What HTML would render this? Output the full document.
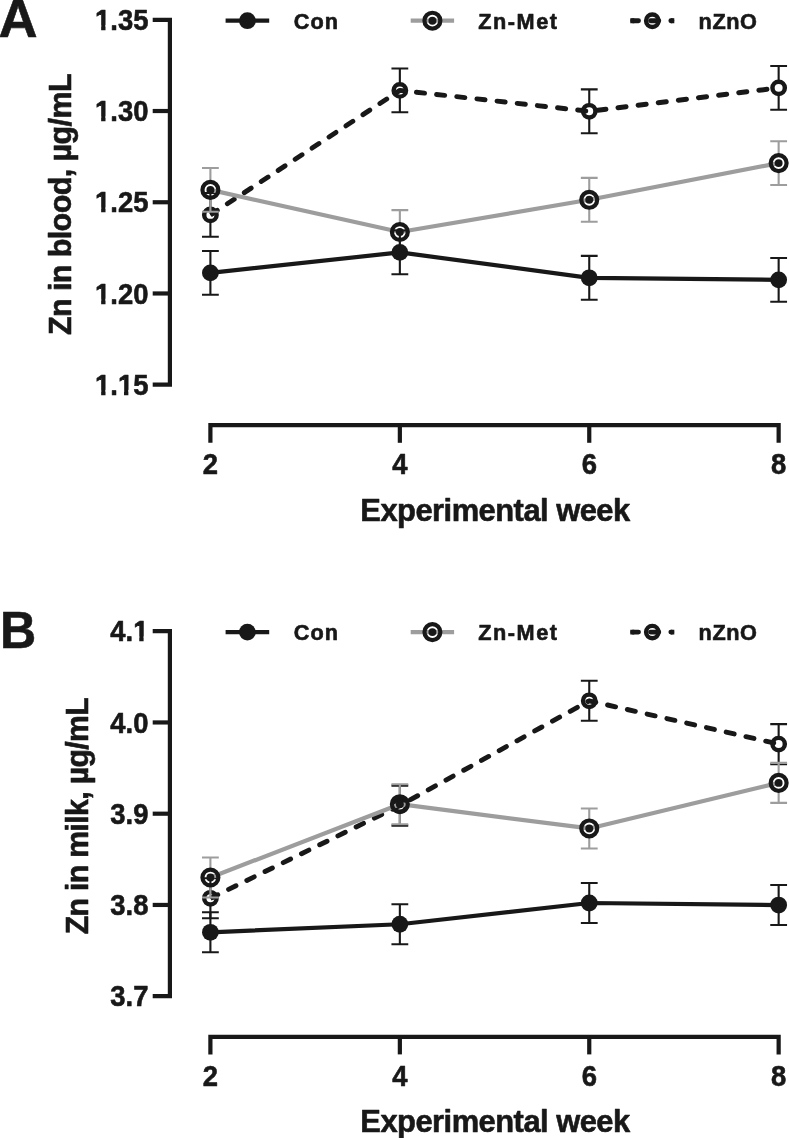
<!DOCTYPE html>
<html><head><meta charset="utf-8"><title>Zn in blood and milk</title>
<style>
html,body{margin:0;padding:0;background:#fff;}
svg{display:block;will-change:transform;filter:grayscale(1);}
text{font-family:"Liberation Sans",sans-serif;font-weight:bold;fill:#181818;stroke:#181818;stroke-width:0.6px;stroke-linejoin:round;}
</style></head><body>
<svg width="789" height="1138" viewBox="0 0 789 1138">
<rect width="789" height="1138" fill="#fff"/>
<!-- panel A: axes -->
<path d="M152.7 19.80H169.90V384.70H152.7" fill="none" stroke="#181818" stroke-width="4.2" stroke-linejoin="miter"/>
<path d="M152.7 111.02H169.90" stroke="#181818" stroke-width="4.2"/>
<path d="M152.7 202.25H169.90" stroke="#181818" stroke-width="4.2"/>
<path d="M152.7 293.47H169.90" stroke="#181818" stroke-width="4.2"/>
<path d="M210.40 442.80V425.20H778.65V442.80" fill="none" stroke="#181818" stroke-width="4.2"/>
<path d="M399.85 425.20V442.80" stroke="#181818" stroke-width="4.2"/>
<path d="M589.25 425.20V442.80" stroke="#181818" stroke-width="4.2"/>
<!-- panel A: tick labels -->
<text transform="translate(148.40 29.90) scale(0.9550 1)" text-anchor="end" font-size="28.7">1.35</text><rect x="95.58" y="24.97" width="5.57" height="7.43" fill="#fff"/><rect x="105.51" y="24.97" width="5.22" height="7.43" fill="#fff"/>
<text transform="translate(148.40 121.12) scale(0.9550 1)" text-anchor="end" font-size="28.7">1.30</text><rect x="95.58" y="116.20" width="5.57" height="7.43" fill="#fff"/><rect x="105.51" y="116.20" width="5.22" height="7.43" fill="#fff"/>
<text transform="translate(148.40 212.35) scale(0.9550 1)" text-anchor="end" font-size="28.7">1.25</text><rect x="95.58" y="207.42" width="5.57" height="7.43" fill="#fff"/><rect x="105.51" y="207.42" width="5.22" height="7.43" fill="#fff"/>
<text transform="translate(148.40 303.57) scale(0.9550 1)" text-anchor="end" font-size="28.7">1.20</text><rect x="95.58" y="298.65" width="5.57" height="7.43" fill="#fff"/><rect x="105.51" y="298.65" width="5.22" height="7.43" fill="#fff"/>
<text transform="translate(148.40 394.80) scale(0.9550 1)" text-anchor="end" font-size="28.7">1.15</text><rect x="95.58" y="389.87" width="5.57" height="7.43" fill="#fff"/><rect x="105.51" y="389.87" width="5.22" height="7.43" fill="#fff"/><rect x="118.44" y="389.87" width="5.57" height="7.43" fill="#fff"/><rect x="128.37" y="389.87" width="5.22" height="7.43" fill="#fff"/>
<text transform="translate(210.40 474.00) scale(0.9550 1)" text-anchor="middle" font-size="28.7">2</text>
<text transform="translate(399.85 474.00) scale(0.9550 1)" text-anchor="middle" font-size="28.7">4</text>
<text transform="translate(589.25 474.00) scale(0.9550 1)" text-anchor="middle" font-size="28.7">6</text>
<text transform="translate(778.65 474.00) scale(0.9550 1)" text-anchor="middle" font-size="28.7">8</text>
<!-- panel A: titles -->
<text transform="translate(495.00 520.60) scale(0.9750 1)" text-anchor="middle" font-size="31.7" letter-spacing="-0.54">Experimental week</text>
<text transform="translate(71.10 204.50) rotate(-90) scale(0.9650 1)" text-anchor="middle" font-size="31.7" letter-spacing="-0.65">Zn in blood, µg/mL</text>
<text transform="translate(-1.60 36.60) scale(1.0244 1)" text-anchor="start" font-size="52.88999999999999">A</text>
<!-- panel A: legend -->
<path d="M225.6 20.70H269.2" stroke="#181818" stroke-width="4.2"/><circle cx="247.4" cy="20.70" r="8.4" fill="#181818"/>
<text transform="translate(293.70 28.80)" text-anchor="start" font-size="21.7" letter-spacing="1.1">Con</text>
<path d="M410.7 20.70H454.1" stroke="#9d9d9d" stroke-width="4.2"/>
<circle cx="432.40" cy="20.70" r="7.95" fill="none" stroke="#181818" stroke-width="4.2"/><circle cx="432.40" cy="20.70" r="3.95" fill="#181818"/>
<text transform="translate(478.15 28.80)" text-anchor="start" font-size="21.7" letter-spacing="1.55">Zn-Met</text>
<path d="M632.75 20.70L638.50 20.70M650.58 20.70L658.78 20.70M670.86 20.70L671.85 20.70" stroke="#181818" stroke-width="4.9" fill="none" stroke-linecap="round" stroke-linejoin="round"/><path d="M630.30 20.70L634.25 20.70M670.86 20.70L674.30 20.70" stroke="#181818" stroke-width="4.9" fill="none"/>
<circle cx="652.30" cy="20.70" r="6.2" fill="none" stroke="#181818" stroke-width="4.45"/>
<text transform="translate(698.60 28.80)" text-anchor="start" font-size="21.7" letter-spacing="0.55">nZnO</text>
<!-- panel A: nZnO -->
<path d="M210.40 207.90V193.00M202.00 193.00H218.80M210.40 221.90V236.80M202.00 236.80H218.80M399.85 83.40V68.50M391.45 68.50H408.25M399.85 97.40V112.30M391.45 112.30H408.25M589.25 104.30V89.40M580.85 89.40H597.65M589.25 118.30V133.20M580.85 133.20H597.65M778.65 80.85V65.95M770.25 65.95H787.05M778.65 94.85V109.75M770.25 109.75H787.05" stroke="#181818" stroke-width="2.1" fill="none"/>
<path d="M212.45 213.55L217.25 210.40M227.35 203.76L234.20 199.26M244.30 192.62L251.15 188.12M261.24 181.49L268.10 176.98M278.19 170.35L285.04 165.85M295.14 159.21L301.99 154.71M312.09 148.07L318.94 143.57M329.04 136.94L335.89 132.43M345.98 125.80L352.84 121.30M362.93 114.66L369.78 110.16M379.88 103.52L386.73 99.02M396.83 92.39L399.85 90.40L404.41 90.90M416.41 92.23L424.56 93.13M436.57 94.45L444.72 95.35M456.73 96.68L464.88 97.58M476.89 98.90L485.04 99.80M497.04 101.13L505.19 102.02M517.20 103.35L525.35 104.25M537.36 105.57L545.51 106.47M557.52 107.80L565.67 108.70M577.67 110.02L585.82 110.92M597.82 110.24L605.96 109.23M617.94 107.75L626.08 106.74M638.07 105.26L646.21 104.25M658.20 102.76L666.33 101.76M678.32 100.27L686.46 99.26M698.45 97.78L706.59 96.77M718.58 95.29L726.71 94.28M738.70 92.80L746.84 91.79M758.83 90.30L766.97 89.30" stroke="#181818" stroke-width="4.9" fill="none" stroke-linecap="round" stroke-linejoin="round"/><path d="M210.40 214.90L213.70 212.73" stroke="#181818" stroke-width="4.9" fill="none"/>
<circle cx="210.40" cy="214.90" r="6.2" fill="none" stroke="#181818" stroke-width="4.45"/>
<circle cx="399.85" cy="90.40" r="6.2" fill="none" stroke="#181818" stroke-width="4.45"/>
<circle cx="589.25" cy="111.30" r="6.2" fill="none" stroke="#181818" stroke-width="4.45"/>
<circle cx="778.65" cy="87.85" r="6.2" fill="none" stroke="#181818" stroke-width="4.45"/>
<!-- panel A: Zn-Met -->
<path d="M210.40 189.90L399.85 232.00L589.25 199.80L778.65 163.10" stroke="#9d9d9d" stroke-width="4.2" fill="none" stroke-linejoin="round"/>
<path d="M210.40 181.90V168.00M202.00 168.00H218.80M210.40 197.90V211.80M202.00 211.80H218.80M399.85 224.00V210.10M391.45 210.10H408.25M399.85 240.00V253.90M391.45 253.90H408.25M589.25 191.80V177.90M580.85 177.90H597.65M589.25 207.80V221.70M580.85 221.70H597.65M778.65 155.10V141.20M770.25 141.20H787.05M778.65 171.10V185.00M770.25 185.00H787.05" stroke="#9d9d9d" stroke-width="2.1" fill="none"/>
<circle cx="210.40" cy="189.90" r="7.95" fill="none" stroke="#181818" stroke-width="4.2"/><circle cx="210.40" cy="189.90" r="3.95" fill="#181818"/>
<circle cx="399.85" cy="232.00" r="7.95" fill="none" stroke="#181818" stroke-width="4.2"/><circle cx="399.85" cy="232.00" r="3.95" fill="#181818"/>
<circle cx="589.25" cy="199.80" r="7.95" fill="none" stroke="#181818" stroke-width="4.2"/><circle cx="589.25" cy="199.80" r="3.95" fill="#181818"/>
<circle cx="778.65" cy="163.10" r="7.95" fill="none" stroke="#181818" stroke-width="4.2"/><circle cx="778.65" cy="163.10" r="3.95" fill="#181818"/>
<!-- panel A: Con -->
<path d="M210.40 272.90L399.85 252.40L589.25 277.80L778.65 279.85" stroke="#181818" stroke-width="4.2" fill="none" stroke-linejoin="round"/>
<path d="M210.40 266.90V251.00M202.00 251.00H218.80M210.40 278.90V294.80M202.00 294.80H218.80M399.85 246.40V230.50M391.45 230.50H408.25M399.85 258.40V274.30M391.45 274.30H408.25M589.25 271.80V255.90M580.85 255.90H597.65M589.25 283.80V299.70M580.85 299.70H597.65M778.65 273.85V257.95M770.25 257.95H787.05M778.65 285.85V301.75M770.25 301.75H787.05" stroke="#181818" stroke-width="2.1" fill="none"/>
<circle cx="210.40" cy="272.90" r="8.4" fill="#181818"/>
<circle cx="399.85" cy="252.40" r="8.4" fill="#181818"/>
<circle cx="589.25" cy="277.80" r="8.4" fill="#181818"/>
<circle cx="778.65" cy="279.85" r="8.4" fill="#181818"/>
<!-- panel B: axes -->
<path d="M152.7 631.20H169.90V996.20H152.7" fill="none" stroke="#181818" stroke-width="4.2" stroke-linejoin="miter"/>
<path d="M152.7 722.45H169.90" stroke="#181818" stroke-width="4.2"/>
<path d="M152.7 813.70H169.90" stroke="#181818" stroke-width="4.2"/>
<path d="M152.7 904.95H169.90" stroke="#181818" stroke-width="4.2"/>
<path d="M210.40 1054.40V1036.80H778.65V1054.40" fill="none" stroke="#181818" stroke-width="4.2"/>
<path d="M399.85 1036.80V1054.40" stroke="#181818" stroke-width="4.2"/>
<path d="M589.25 1036.80V1054.40" stroke="#181818" stroke-width="4.2"/>
<!-- panel B: tick labels -->
<text transform="translate(148.40 641.30) scale(0.9550 1)" text-anchor="end" font-size="28.7">4.1</text><rect x="133.68" y="636.37" width="5.57" height="7.43" fill="#fff"/><rect x="143.61" y="636.37" width="5.22" height="7.43" fill="#fff"/>
<text transform="translate(148.40 732.55) scale(0.9550 1)" text-anchor="end" font-size="28.7">4.0</text>
<text transform="translate(148.40 823.80) scale(0.9550 1)" text-anchor="end" font-size="28.7">3.9</text>
<text transform="translate(148.40 915.05) scale(0.9550 1)" text-anchor="end" font-size="28.7">3.8</text>
<text transform="translate(148.40 1006.30) scale(0.9550 1)" text-anchor="end" font-size="28.7">3.7</text>
<text transform="translate(210.40 1085.60) scale(0.9550 1)" text-anchor="middle" font-size="28.7">2</text>
<text transform="translate(399.85 1085.60) scale(0.9550 1)" text-anchor="middle" font-size="28.7">4</text>
<text transform="translate(589.25 1085.60) scale(0.9550 1)" text-anchor="middle" font-size="28.7">6</text>
<text transform="translate(778.65 1085.60) scale(0.9550 1)" text-anchor="middle" font-size="28.7">8</text>
<!-- panel B: titles -->
<text transform="translate(495.00 1132.20) scale(0.9750 1)" text-anchor="middle" font-size="31.7" letter-spacing="-0.54">Experimental week</text>
<text transform="translate(87.90 816.10) rotate(-90) scale(0.9550 1)" text-anchor="middle" font-size="31.7" letter-spacing="-0.7">Zn in milk, µg/mL</text>
<text transform="translate(-0.10 648.20) scale(0.9624 1)" text-anchor="start" font-size="52.116">B</text>
<!-- panel B: legend -->
<path d="M225.6 632.10H269.2" stroke="#181818" stroke-width="4.2"/><circle cx="247.4" cy="632.10" r="8.4" fill="#181818"/>
<text transform="translate(293.70 640.20)" text-anchor="start" font-size="21.7" letter-spacing="1.1">Con</text>
<path d="M410.7 632.10H454.1" stroke="#9d9d9d" stroke-width="4.2"/>
<circle cx="432.40" cy="632.10" r="7.95" fill="none" stroke="#181818" stroke-width="4.2"/><circle cx="432.40" cy="632.10" r="3.95" fill="#181818"/>
<text transform="translate(478.15 640.20)" text-anchor="start" font-size="21.7" letter-spacing="1.55">Zn-Met</text>
<path d="M632.75 632.10L638.50 632.10M650.58 632.10L658.78 632.10M670.86 632.10L671.85 632.10" stroke="#181818" stroke-width="4.9" fill="none" stroke-linecap="round" stroke-linejoin="round"/><path d="M630.30 632.10L634.25 632.10M670.86 632.10L674.30 632.10" stroke="#181818" stroke-width="4.9" fill="none"/>
<circle cx="652.30" cy="632.10" r="6.2" fill="none" stroke="#181818" stroke-width="4.45"/>
<text transform="translate(698.60 640.20)" text-anchor="start" font-size="21.7" letter-spacing="0.55">nZnO</text>
<!-- panel B: nZnO -->
<path d="M210.40 891.30V878.30M202.00 878.30H218.80M210.40 905.30V918.30M202.00 918.30H218.80M399.85 798.60V785.60M391.45 785.60H408.25M399.85 812.60V825.60M391.45 825.60H408.25M589.25 693.80V680.80M580.85 680.80H597.65M589.25 707.80V720.80M580.85 720.80H597.65M778.65 737.10V724.10M770.25 724.10H787.05M778.65 751.10V764.10M770.25 764.10H787.05" stroke="#181818" stroke-width="2.1" fill="none"/>
<path d="M212.60 897.22L217.77 894.70M228.62 889.39L235.98 885.78M246.83 880.47L254.20 876.87M265.05 871.56L272.41 867.96M283.26 862.65L290.63 859.04M301.48 853.73L308.85 850.13M319.70 844.82L327.06 841.22M337.91 835.91L345.28 832.30M356.13 826.99L363.50 823.39M374.35 818.08L381.71 814.48M392.56 809.17L399.85 805.60L399.93 805.56M410.50 799.71L417.67 795.74M428.24 789.89L435.41 785.92M445.98 780.07L453.16 776.10M463.73 770.25L470.90 766.28M481.47 760.44L488.65 756.47M499.22 750.62L506.39 746.65M516.96 740.80L524.14 736.83M534.71 730.98L541.88 727.01M552.45 721.16L559.63 717.19M570.20 711.34L577.37 707.37M587.94 701.52L589.25 700.80L595.79 702.29M607.56 704.99L615.56 706.81M627.33 709.51L635.33 711.33M647.10 714.03L655.10 715.85M666.87 718.55L674.87 720.37M686.64 723.07L694.64 724.89M706.41 727.59L714.41 729.41M726.18 732.11L734.18 733.93M745.95 736.62L753.95 738.45M765.72 741.14L773.72 742.97" stroke="#181818" stroke-width="4.9" fill="none" stroke-linecap="round" stroke-linejoin="round"/><path d="M210.40 898.30L213.95 896.56" stroke="#181818" stroke-width="4.9" fill="none"/>
<circle cx="210.40" cy="898.30" r="6.2" fill="none" stroke="#181818" stroke-width="4.45"/>
<circle cx="399.85" cy="805.60" r="6.2" fill="none" stroke="#181818" stroke-width="4.45"/>
<circle cx="589.25" cy="700.80" r="6.2" fill="none" stroke="#181818" stroke-width="4.45"/>
<circle cx="778.65" cy="744.10" r="6.2" fill="none" stroke="#181818" stroke-width="4.45"/>
<!-- panel B: Zn-Met -->
<path d="M210.40 877.50L399.85 804.20L589.25 828.45L778.65 782.90" stroke="#9d9d9d" stroke-width="4.2" fill="none" stroke-linejoin="round"/>
<path d="M210.40 869.50V857.50M202.00 857.50H218.80M210.40 885.50V897.50M202.00 897.50H218.80M399.85 796.20V784.20M391.45 784.20H408.25M399.85 812.20V824.20M391.45 824.20H408.25M589.25 820.45V808.45M580.85 808.45H597.65M589.25 836.45V848.45M580.85 848.45H597.65M778.65 774.90V762.90M770.25 762.90H787.05M778.65 790.90V802.90M770.25 802.90H787.05" stroke="#9d9d9d" stroke-width="2.1" fill="none"/>
<circle cx="210.40" cy="877.50" r="7.95" fill="none" stroke="#181818" stroke-width="4.2"/><circle cx="210.40" cy="877.50" r="3.95" fill="#181818"/>
<circle cx="399.85" cy="804.20" r="7.95" fill="none" stroke="#181818" stroke-width="4.2"/><circle cx="399.85" cy="804.20" r="3.95" fill="#181818"/>
<circle cx="589.25" cy="828.45" r="7.95" fill="none" stroke="#181818" stroke-width="4.2"/><circle cx="589.25" cy="828.45" r="3.95" fill="#181818"/>
<circle cx="778.65" cy="782.90" r="7.95" fill="none" stroke="#181818" stroke-width="4.2"/><circle cx="778.65" cy="782.90" r="3.95" fill="#181818"/>
<!-- panel B: Con -->
<path d="M210.40 932.30L399.85 924.25L589.25 903.00L778.65 905.05" stroke="#181818" stroke-width="4.2" fill="none" stroke-linejoin="round"/>
<path d="M210.40 926.30V912.30M202.00 912.30H218.80M210.40 938.30V952.30M202.00 952.30H218.80M399.85 918.25V904.25M391.45 904.25H408.25M399.85 930.25V944.25M391.45 944.25H408.25M589.25 897.00V883.00M580.85 883.00H597.65M589.25 909.00V923.00M580.85 923.00H597.65M778.65 899.05V885.05M770.25 885.05H787.05M778.65 911.05V925.05M770.25 925.05H787.05" stroke="#181818" stroke-width="2.1" fill="none"/>
<circle cx="210.40" cy="932.30" r="8.4" fill="#181818"/>
<circle cx="399.85" cy="924.25" r="8.4" fill="#181818"/>
<circle cx="589.25" cy="903.00" r="8.4" fill="#181818"/>
<circle cx="778.65" cy="905.05" r="8.4" fill="#181818"/>
</svg>
</body></html>
